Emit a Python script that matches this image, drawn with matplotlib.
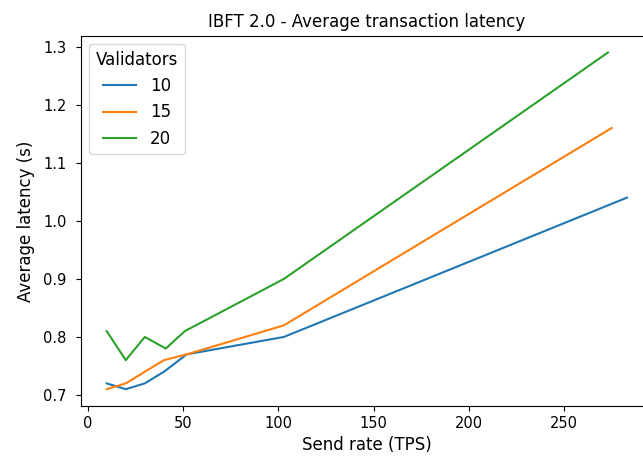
import matplotlib
matplotlib.use("Agg")
import matplotlib.pyplot as plt

validators = ["10", "15", "20"]
send_rate_10 = [10, 20, 30, 40, 52, 103, 283]
latency_10 = [0.72, 0.71, 0.72, 0.74, 0.77, 0.80, 1.04]
send_rate_15 = [10, 20, 30, 40, 52, 103, 275]
latency_15 = [0.71, 0.72, 0.74, 0.76, 0.77, 0.82, 1.16]
send_rate_20 = [10, 20, 30, 41, 51, 103, 273]
latency_20 = [0.81, 0.76, 0.80, 0.78, 0.81, 0.90, 1.29]

fig = plt.figure(figsize=(6.43, 4.63), dpi=100)
ax = fig.add_axes([0.1255, 0.1231, 0.890, 0.7998])

series = [(send_rate_10, latency_10), (send_rate_15, latency_15), (send_rate_20, latency_20)]
for name, (xs, ys) in zip(validators, series):
    ax.plot(xs, ys, label=name)

ax.set_title("IBFT 2.0 - Average transaction latency", fontsize=12)
ax.set_xlabel("Send rate (TPS)", fontsize=12)
ax.set_ylabel("Average latency (s)", fontsize=12, labelpad=6)
ax.set_xticks([0, 50, 100, 150, 200, 250])
ax.set_yticks([0.7, 0.8, 0.9, 1.0, 1.1, 1.2, 1.3])
ax.tick_params(axis="y", pad=6.5, labelsize=10.5)
ax.tick_params(axis="x", labelsize=10.5)
ax.legend(title="Validators", loc="upper left", fontsize=12, title_fontsize=12)

fig.savefig("out.png", dpi=100)
